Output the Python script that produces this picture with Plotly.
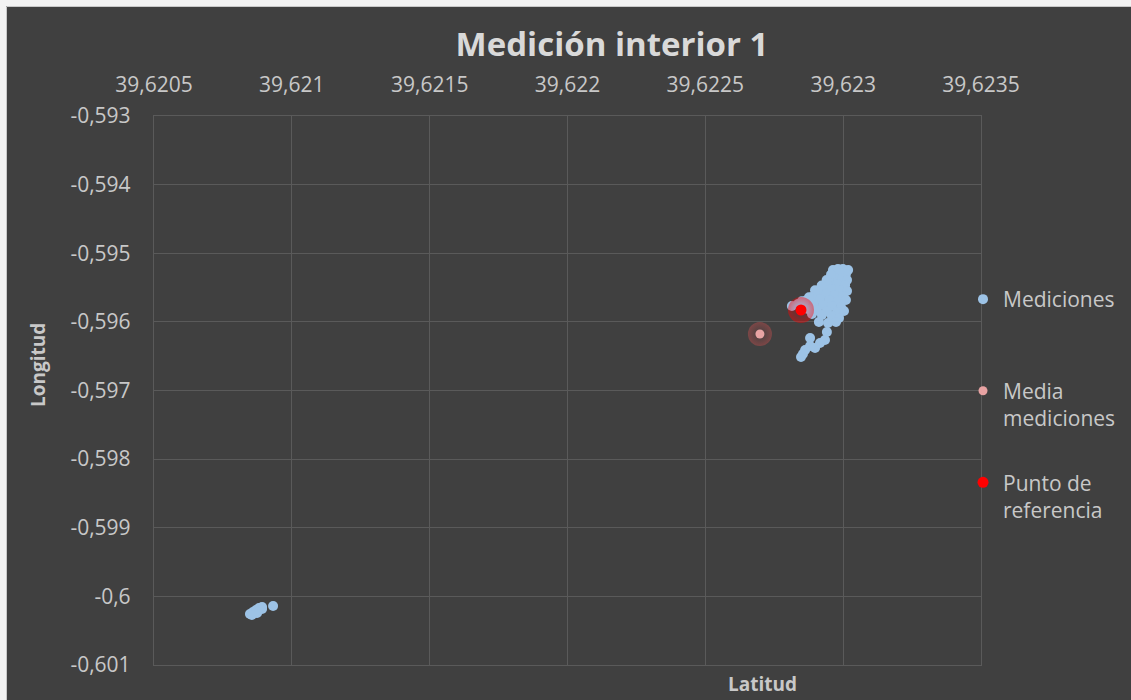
import plotly.graph_objects as go

# Measured positions (latitude, longitude)
med_lat = [
    39.622963, 39.622981, 39.622999, 39.623018, 39.623010, 39.622988,
    39.622974, 39.622996, 39.623014, 39.622956,
    39.622952, 39.622978, 39.623007, 39.622940,
    39.622934, 39.622959, 39.622988, 39.623014, 39.622922,
    39.622909, 39.622938, 39.622970, 39.622999, 39.622898,
    39.622887, 39.622916, 39.622949, 39.622981, 39.623010,
    39.622862, 39.622894, 39.622927, 39.622959, 39.622992, 39.622876,
    39.622836, 39.622814, 39.622872, 39.622905, 39.622941, 39.622978, 39.623003,
    39.622887, 39.622923, 39.622959, 39.622985, 39.622974, 39.622850,
    39.622912, 39.622945, 39.622941, 39.622934, 39.622916, 39.622880,
    39.622898, 39.622880, 39.622862, 39.622854, 39.622847,
    39.620848, 39.620859, 39.620870, 39.620881, 39.620892, 39.620874,
    39.620892, 39.620855, 39.620932,
]
med_lon = [
    -0.595244, -0.595229, -0.595229, -0.595244, -0.595302, -0.595288,
    -0.595361, -0.595361, -0.595390, -0.595310,
    -0.595434, -0.595448, -0.595463, -0.595390,
    -0.595506, -0.595521, -0.595536, -0.595550, -0.595470,
    -0.595565, -0.595594, -0.595608, -0.595623, -0.595540,
    -0.595638, -0.595667, -0.595681, -0.595696, -0.595681,
    -0.595696, -0.595740, -0.595754, -0.595769, -0.595783, -0.595640,
    -0.595740, -0.595769, -0.595812, -0.595827, -0.595842, -0.595856, -0.595842,
    -0.595885, -0.595900, -0.595914, -0.595944, -0.596002, -0.595700,
    -0.596002, -0.596016, -0.596148, -0.596264, -0.596308, -0.596235,
    -0.596381, -0.596352, -0.596410, -0.596468, -0.596512,
    -0.600257, -0.600228, -0.600199, -0.600169, -0.600155, -0.600242,
    -0.600184, -0.600271, -0.600140,
]

# Mean of the measurements and the reference point
media_lat = [39.622698]
media_lon = [-0.596177]
ref_lat = [39.622847]
ref_lon = [-0.595827]

x_ticks = [39.6205, 39.621, 39.6215, 39.622, 39.6225, 39.623, 39.6235]
x_ticktext = ["39,6205", "39,621", "39,6215", "39,622", "39,6225", "39,623", "39,6235"]
y_ticks = [-0.593, -0.594, -0.595, -0.596, -0.597, -0.598, -0.599, -0.600, -0.601]
y_ticktext = ["-0,593", "-0,594", "-0,595", "-0,596", "-0,597", "-0,598", "-0,599", "-0,6", "-0,601"]

FONT = "Open Sans"
TXT = "#c8c8c8"
GRID = "#5a5a5a"
BG = "#404040"

fig = go.Figure()

fig.add_trace(go.Scatter(
    x=med_lat, y=med_lon, mode="markers", name="Mediciones<br>\u00a0",
    marker=dict(size=10, color="#9dc3e6"), legendgroup="a",
))
# soft glows behind the two single points
fig.add_trace(go.Scatter(
    x=media_lat, y=media_lon, mode="markers", showlegend=False, hoverinfo="skip",
    marker=dict(size=24, color="rgba(215,80,80,0.4)",
                gradient=dict(type="radial", color="rgba(215,80,80,0)")),
))
fig.add_trace(go.Scatter(
    x=media_lat, y=media_lon, mode="markers", name="Media<br>mediciones",
    marker=dict(size=9, color="#e8a3a3"), legendgroup="b",
))
fig.add_trace(go.Scatter(
    x=ref_lat, y=ref_lon, mode="markers", showlegend=False, hoverinfo="skip",
    marker=dict(size=26, color="rgba(255,0,0,0.45)",
                gradient=dict(type="radial", color="rgba(255,0,0,0)")),
))
fig.add_trace(go.Scatter(
    x=ref_lat, y=ref_lon, mode="markers", name="Punto de<br>referencia",
    marker=dict(size=11, color="#ff0000"), legendgroup="c",
))

L, R, T, B = 154, 150, 116, 35
W, H = 1131, 700
pw, ph = W - L - R, H - T - B


def px_x(p):
    return (p - L) / pw


def px_y(p):
    return (H - B - p) / ph


fig.update_layout(
    width=W, height=H,
    margin=dict(l=L, r=R, t=T, b=B, autoexpand=False),
    paper_bgcolor=BG, plot_bgcolor=BG,
    separators=", ",
    font=dict(family=FONT, color=TXT, size=21),
    title=dict(text="<b>Medición interior 1</b>", x=612 / W, xanchor="center",
               y=1 - 44 / H, yanchor="middle",
               font=dict(family=FONT, size=33, color="#d9d9d9")),
    xaxis=dict(range=[39.6205, 39.6235], side="top", tickvals=x_ticks, ticktext=x_ticktext,
               showgrid=True, gridcolor=GRID, gridwidth=1.3, zeroline=False,
               showline=True, mirror=True, linecolor=GRID, linewidth=1.3,
               ticks="", ticklabelstandoff=14, tickfont=dict(size=21, color=TXT)),
    yaxis=dict(range=[-0.601, -0.593], tickvals=y_ticks, ticktext=y_ticktext,
               showgrid=True, gridcolor=GRID, gridwidth=1.3, zeroline=False,
               showline=True, mirror=True, linecolor=GRID, linewidth=1.3,
               ticks="", ticklabelstandoff=18, tickfont=dict(size=21, color=TXT)),
    legend=dict(x=px_x(963), xanchor="left", y=px_y(279), yanchor="top",
                bgcolor="rgba(0,0,0,0)", font=dict(size=21, color=TXT),
                itemwidth=30, tracegroupgap=34, valign="top"),
    showlegend=True,
)

# axis titles
fig.add_annotation(text="<b>Longitud</b>", xref="paper", yref="paper",
                   x=px_x(38), y=px_y(365), xanchor="center", yanchor="middle",
                   textangle=-90, showarrow=False, font=dict(size=19, color=TXT))
fig.add_annotation(text="<b>Latitud</b>", xref="paper", yref="paper",
                   x=px_x(762), y=px_y(684), xanchor="center", yanchor="middle",
                   showarrow=False, font=dict(size=19, color=TXT))

# light frame along the top and left edges
fig.add_shape(type="rect", xref="paper", yref="paper", x0=px_x(0), x1=px_x(6), y0=px_y(H), y1=px_y(0),
              fillcolor="#f2f2f2", line_width=0, layer="above")
fig.add_shape(type="rect", xref="paper", yref="paper", x0=px_x(0), x1=px_x(W), y0=px_y(6), y1=px_y(0),
              fillcolor="#f2f2f2", line_width=0, layer="above")
fig.add_shape(type="line", xref="paper", yref="paper", x0=px_x(6.5), x1=px_x(6.5), y0=px_y(H), y1=px_y(6.5),
              line=dict(color="#c8c8c8", width=1), layer="above")
fig.add_shape(type="line", xref="paper", yref="paper", x0=px_x(6.5), x1=px_x(W), y0=px_y(6.5), y1=px_y(6.5),
              line=dict(color="#c8c8c8", width=1), layer="above")

fig.write_html("out.html")
